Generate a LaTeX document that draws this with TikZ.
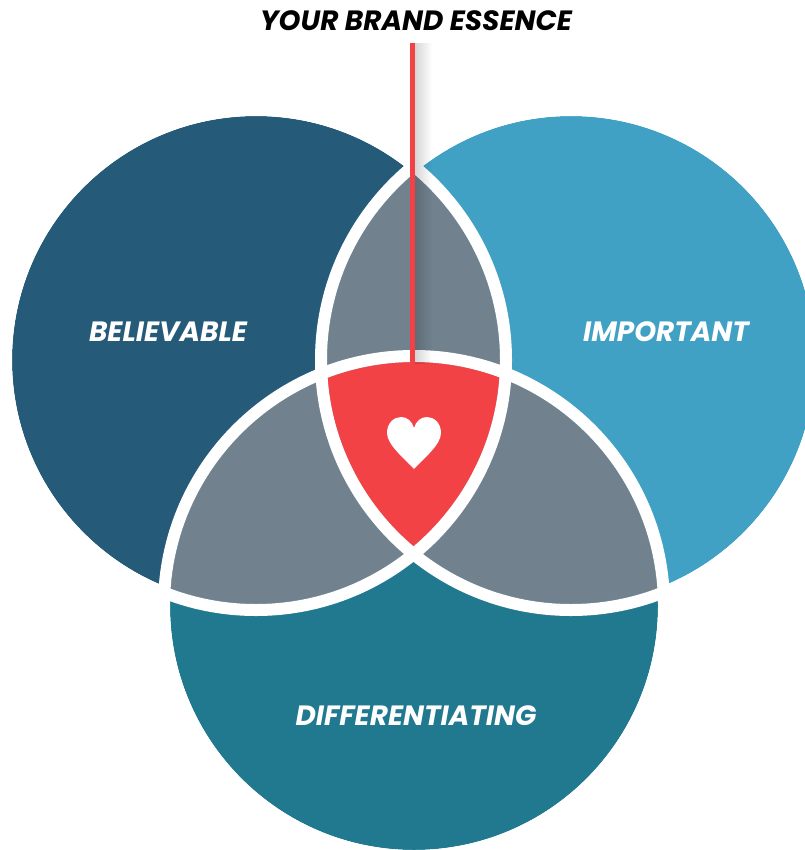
\documentclass[tikz,border=0pt]{standalone}
\usepackage{fontspec}
\usetikzlibrary{fadings}
\setmainfont{Poppins}
\definecolor{believecol}{HTML}{255A78}
\definecolor{importcol}{HTML}{41A1C4}
\definecolor{diffcol}{HTML}{20798F}
\definecolor{overlapcol}{HTML}{71828E}
\definecolor{essencecol}{HTML}{F34246}
\tikzset{
  venntext/.style={text=white,font=\fontsize{28}{32}\selectfont\bfseries\itshape},
  ringline/.style={draw=white,line width=12bp},
}
\begin{document}
\begin{tikzpicture}[x=1bp,y=-1bp]
    %%
    \useasboundingbox (0,0) rectangle (805,850);
    \clip (0,0) rectangle (805,850);
    % circles
    \fill [believecol] (256,360) circle (244);
    \fill [importcol] (571,360) circle (244);
    \fill [diffcol] (414,606) circle (244);
    % overlaps
    \begin{scope}
      \clip (256,360) circle (244);
      \fill [overlapcol] (571,360) circle (244);
      \fill [overlapcol] (414,606) circle (244);
    \end{scope}
    \begin{scope}
      \clip (571,360) circle (244);
      \fill [overlapcol] (414,606) circle (244);
      \clip (414,606) circle (244);
      \fill [essencecol] (256,360) circle (244);
    \end{scope}
    % white rings
    \draw [ringline] (571,360) circle (250);
    \draw [ringline] (256,360) circle (250);
    \draw [ringline] (414,606) circle (250);
    %
    \node (essence) at (416,21) [font=\fontsize{28}{32}\selectfont\bfseries\itshape] {YOUR BRAND ESSENCE};
    \node (believable) at (168,332) [venntext] {BELIEVABLE};
    \node (important) at (666,332) [venntext] {IMPORTANT};
    \node (differentiating) at (416,716) [venntext] {DIFFERENTIATING};
    % heart
    \fill [white] (414,469) .. controls (405,459) and (387,445) .. (387,433)
      .. controls (387,423) and (394,417) .. (401,417)
      .. controls (407,417) and (412,421) .. (414,428)
      .. controls (416,421) and (421,417) .. (427,417)
      .. controls (434,417) and (441,423) .. (441,433)
      .. controls (441,445) and (423,459) .. (414,469) -- cycle;
    % stem
    \coordinate (stemtop) at (412.7,43);
    \coordinate (stembot) at (412.7,364);
    \fill [black,opacity=0.16,path fading=east] (415,43) rectangle (432,364);
    \draw [essencecol,line width=5.3bp] (stemtop) -- (stembot);
    %
\end{tikzpicture}
\end{document}
